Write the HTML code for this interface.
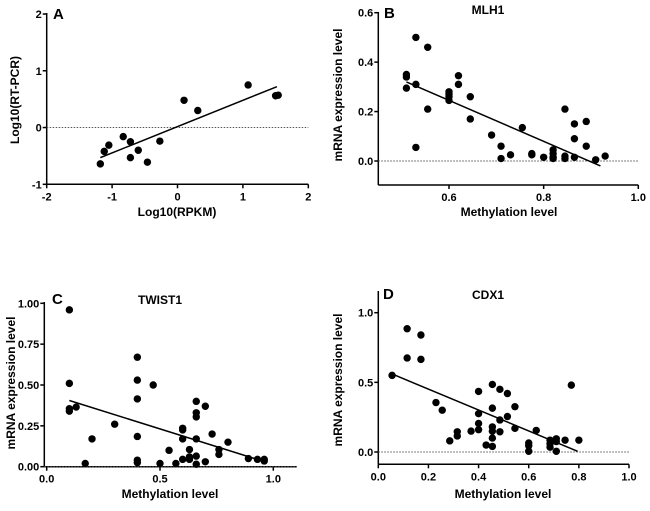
<!DOCTYPE html>
<html><head><meta charset="utf-8"><style>
body{margin:0;background:#fff}
svg{display:block;font-family:"Liberation Sans",Arial,sans-serif;font-weight:bold}
</style></head><body>
<svg id="s" width="650" height="511"></svg>
<script>
const aX=[-1.18,-1.12,-1.05,-0.83,-0.72,-0.72,-0.6,-0.46,-0.27,0.1,0.31,1.08,1.5,1.54];
const aY=[-0.64,-0.42,-0.31,-0.16,-0.25,-0.53,-0.4,-0.61,-0.24,0.48,0.3,0.75,0.56,0.57];
const aFit=[[-1.18,-0.53],[1.52,0.72]];
const bX=[0.51,0.51,0.51,0.53,0.53,0.53,0.555,0.555,0.6,0.6,0.6,0.6,0.62,0.62,0.645,0.645,0.69,0.71,0.71,0.73,0.755,0.775,0.775,0.8,0.82,0.82,0.82,0.82,0.845,0.845,0.845,0.865,0.865,0.865,0.89,0.89,0.91,0.93];
const bY=[0.35,0.34,0.295,0.5,0.31,0.055,0.46,0.21,0.28,0.27,0.26,0.245,0.345,0.31,0.26,0.17,0.105,0.06,0.01,0.025,0.135,0.03,0.025,0.015,0.045,0.03,0.015,0.01,0.21,0.02,0.01,0.15,0.09,0.015,0.16,0.06,0.005,0.02];
const bFit=[[0.51,0.32],[0.92,-0.02]];
const cX=[0.1,0.1,0.1,0.1,0.13,0.17,0.2,0.3,0.4,0.4,0.4,0.4,0.4,0.4,0.47,0.5,0.54,0.57,0.6,0.6,0.6,0.6,0.63,0.63,0.63,0.66,0.66,0.66,0.66,0.66,0.66,0.7,0.7,0.73,0.76,0.76,0.8,0.89,0.93,0.96,0.96];
const cY=[0.96,0.51,0.355,0.34,0.365,0.02,0.17,0.26,0.67,0.53,0.415,0.185,0.04,0.025,0.5,0.02,0.1,0.02,0.235,0.225,0.17,0.045,0.105,0.06,0.045,0.4,0.33,0.305,0.17,0.065,0.015,0.37,0.03,0.2,0.105,0.075,0.15,0.05,0.045,0.045,0.035];
const cFit=[[0.1,0.405],[0.94,0.04]];
const dX=[0.055,0.115,0.115,0.17,0.17,0.23,0.255,0.285,0.315,0.315,0.37,0.4,0.4,0.4,0.4,0.43,0.455,0.455,0.455,0.455,0.455,0.455,0.485,0.485,0.485,0.515,0.515,0.545,0.545,0.6,0.6,0.6,0.63,0.685,0.685,0.685,0.71,0.71,0.71,0.745,0.77,0.8];
const dY=[0.55,0.885,0.675,0.84,0.665,0.355,0.3,0.08,0.145,0.115,0.15,0.435,0.275,0.205,0.16,0.05,0.485,0.315,0.18,0.15,0.1,0.04,0.45,0.23,0.145,0.42,0.255,0.325,0.17,0.065,0.045,0.005,0.155,0.085,0.06,0.035,0.095,0.075,0.005,0.085,0.48,0.085];
const dFit=[[0.055,0.56],[0.795,0.005]];
const aXT=["-2","-1","0","1","2"],aYT=["-1","0","1","2"];
const bXT=["0.6","0.8","1.0"],bYT=["0.0","0.2","0.4","0.6"];
const cXT=["0.0","0.5","1.0"],cYT=["0.00","0.25","0.50","0.75","1.00"];
const dXT=["0.0","0.2","0.4","0.6","0.8","1.0"],dYT=["0.0","0.5","1.0"];
const S=document.getElementById('s'),NS='http://www.w3.org/2000/svg';
function el(t,a,p){const e=document.createElementNS(NS,t);for(const k in a)e.setAttribute(k,a[k]);(p||S).appendChild(e);return e;}
function panel(o){
 const g=el('g',{});
 
 
 const sx=v=>o.x0+(v-o.xd[0])/(o.xd[1]-o.xd[0])*(o.x1-o.x0);
 const sy=v=>o.y0+(v-o.yd[0])/(o.yd[1]-o.yd[0])*(o.y1-o.y0);
 const ax=el('line',{x1:o.ax,y1:o.ayTop,x2:o.ax,y2:o.axY,stroke:'#000','stroke-width':1.5},g);
 
 const bx=el('line',{x1:o.ax,y1:o.axY,x2:o.axEnd,y2:o.axY,stroke:'#000','stroke-width':1.5},g);
 
 o.xt.forEach(t=>{const X=sx(+t);el('line',{x1:X,y1:o.axY,x2:X,y2:o.axY+4,stroke:'#000','stroke-width':1.5},g);
  const tx=el('text',{x:X,y:o.axY+16,'text-anchor':'middle','font-size':11},g);tx.textContent=t;
  });
 o.yt.forEach(t=>{const Y=sy(+t);el('line',{x1:o.ax-4,y1:Y,x2:o.ax,y2:Y,stroke:'#000','stroke-width':1.5},g);
  const tx=el('text',{x:o.ax-5,y:Y+4,'text-anchor':'end','font-size':11},g);tx.textContent=t;
  });
 const z=el('line',{x1:o.ax,y1:sy(0),x2:o.axEnd,y2:sy(0),stroke:'#555','stroke-width':1,'stroke-dasharray':'1.5,1.5'},g);
 
 o.xs.forEach((v,i)=>{const c=el('circle',{cx:sx(v),cy:sy(o.ys[i]),r:3.7,fill:'#000'},g);
  });
 const f=el('line',{x1:sx(o.fit[0][0]),y1:sy(o.fit[0][1]),x2:sx(o.fit[1][0]),y2:sy(o.fit[1][1]),stroke:'#000','stroke-width':1.5},g);
 
 const L=el('text',{x:o.lx,y:o.ly,'font-size':15},g);L.textContent=o.letter;
 
 if(o.title){const T=el('text',{x:o.tx,y:o.ty,'text-anchor':'middle','font-size':12},g);T.textContent=o.title;
  }
 const XT=el('text',{x:o.xtx,y:o.xty,'text-anchor':'middle','font-size':12},g);XT.textContent=o.xlab;
 
 const YT=el('text',{x:0,y:0,'text-anchor':'middle','font-size':12,transform:`translate(${o.ytx},${o.yty}) rotate(-90)`},g);YT.textContent=o.ylab;
 
}
panel({name:'panel-a',xs:aX,ys:aY,fit:aFit,xt:aXT,yt:aYT,xd:[-2,2],x0:46.7,x1:308.3,yd:[2,-1],y0:14,y1:184.3,
 ax:46.7,ayTop:13,axY:184.3,axEnd:308.3,letter:'A',lx:53,ly:19,xlab:'Log10(RPKM)',xtx:177,xty:216,ylab:'Log10(RT-PCR)',ytx:19,yty:100});
panel({name:'panel-b',xs:bX,ys:bY,fit:bFit,xt:bXT,yt:bYT,xd:[0.6,1.0],x0:449,x1:638.3,yd:[0.6,0],y0:12.7,y1:161,
 ax:378.3,ayTop:12,axY:185,axEnd:638.3,letter:'B',lx:384,ly:18,title:'MLH1',tx:488,ty:14,xlab:'Methylation level',xtx:509,xty:216,ylab:'mRNA expression level',ytx:342,yty:95});
panel({name:'panel-c',xs:cX,ys:cY,fit:cFit,xt:cXT,yt:cYT,xd:[0,1],x0:46.7,x1:273.3,yd:[1,0],y0:303.3,y1:466.7,
 ax:44.3,ayTop:302,axY:466.7,axEnd:296.7,letter:'C',lx:52,ly:304,title:'TWIST1',tx:160,ty:304,xlab:'Methylation level',xtx:170,xty:498,ylab:'mRNA expression level',ytx:15,yty:383});
panel({name:'panel-d',xs:dX,ys:dY,fit:dFit,xt:dXT,yt:dYT,xd:[0,1],x0:378.3,x1:629,yd:[1,0],y0:312.7,y1:452,
 ax:378.3,ayTop:291,axY:464.3,axEnd:629,letter:'D',lx:383,ly:299,title:'CDX1',tx:488,ty:299,xlab:'Methylation level',xtx:503,xty:498,ylab:'mRNA expression level',ytx:342,yty:380});
</script>
</body></html>
